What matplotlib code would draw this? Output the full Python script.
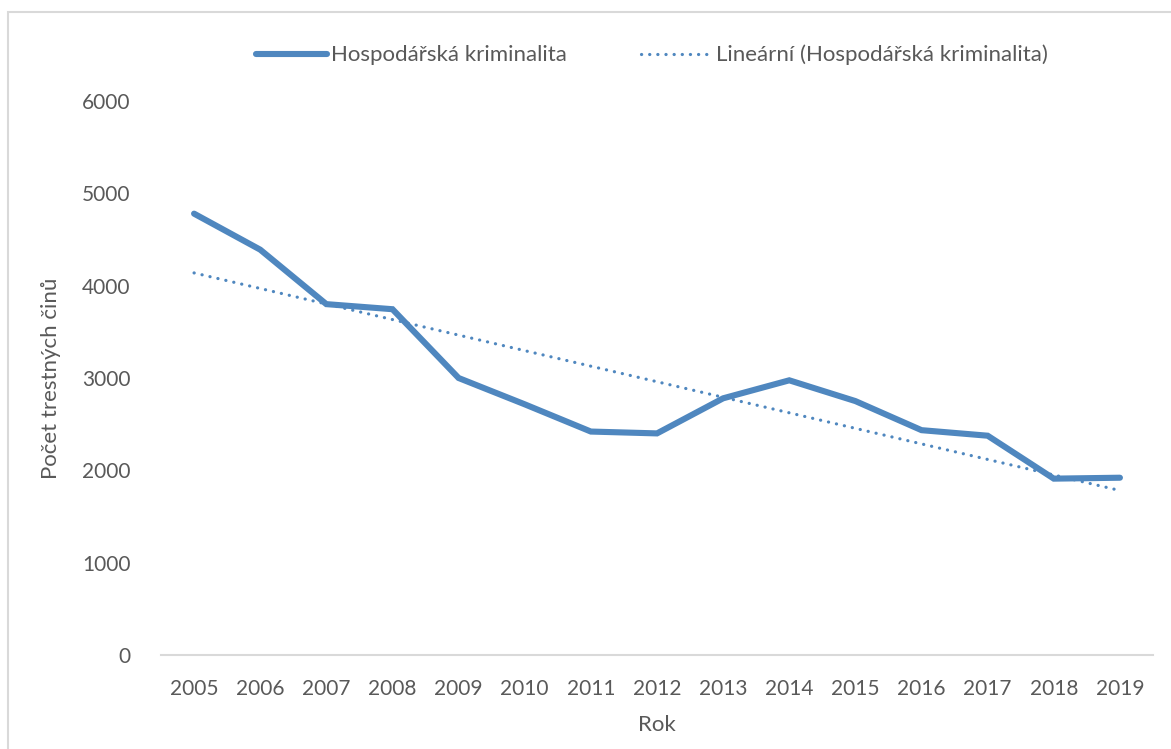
import matplotlib.pyplot as plt
import matplotlib.patches as patches
import numpy as np

plt.rcParams['font.family'] = ['Lato', 'DejaVu Sans']

roky = ['2005', '2006', '2007', '2008', '2009', '2010', '2011', '2012',
        '2013', '2014', '2015', '2016', '2017', '2018', '2019']
pocet = [4780, 4390, 3800, 3745, 3000, 2715, 2420, 2400,
         2780, 2975, 2750, 2435, 2375, 1910, 1920]

barva = '#4f87bf'
seda = '#595959'

x = np.arange(len(roky))
# linearni trend jako v Excelu
k, q = np.polyfit(x, pocet, 1)
trend = k * x + q

fig = plt.figure(figsize=(11.71, 7.49), dpi=100)
ax = fig.add_axes([161/1171, 1 - 655/749, (1153-161)/1171, (655-101)/749])

ax.plot(x, pocet, color=barva, lw=4.4, solid_joinstyle='miter',
        solid_capstyle='round', label='Hospodářská kriminalita')
ax.plot(x, trend, color=barva, lw=2.3, linestyle=(0, (0.05, 2.5)),
        dash_capstyle='round', label='Lineární (Hospodářská kriminalita)')

ax.set_xlim(-0.5, len(roky) - 0.5)
ax.set_ylim(0, 6000)
ax.set_yticks(range(0, 6001, 1000))
ax.set_xticks(x)
ax.set_xticklabels(roky)

for s in ['top', 'right', 'left']:
    ax.spines[s].set_visible(False)
ax.spines['bottom'].set_color('#d9d9d9')
ax.spines['bottom'].set_linewidth(1.5)
ax.tick_params(length=0, labelsize=15, colors=seda)
ax.tick_params(axis='y', pad=22)
ax.tick_params(axis='x', pad=17)

ax.set_xlabel('Rok', fontsize=16, color=seda, labelpad=12)
ax.set_ylabel('Počet trestných činů', fontsize=16, color=seda, labelpad=15)

fig.legend(loc='center', bbox_to_anchor=(652/1171, 1 - 55/749), ncol=2,
           frameon=False, fontsize=16, handlelength=3.2, handletextpad=0.2,
           columnspacing=3.3, labelcolor=seda)

# ramecek grafu
fig.patches.append(patches.Rectangle((8/1171, -0.1), 1.2, 1 - 12/749 + 0.1,
                                     transform=fig.transFigure, fill=False,
                                     edgecolor='#d9d9d9', lw=1.5))

fig.savefig('out.png', dpi=100)
